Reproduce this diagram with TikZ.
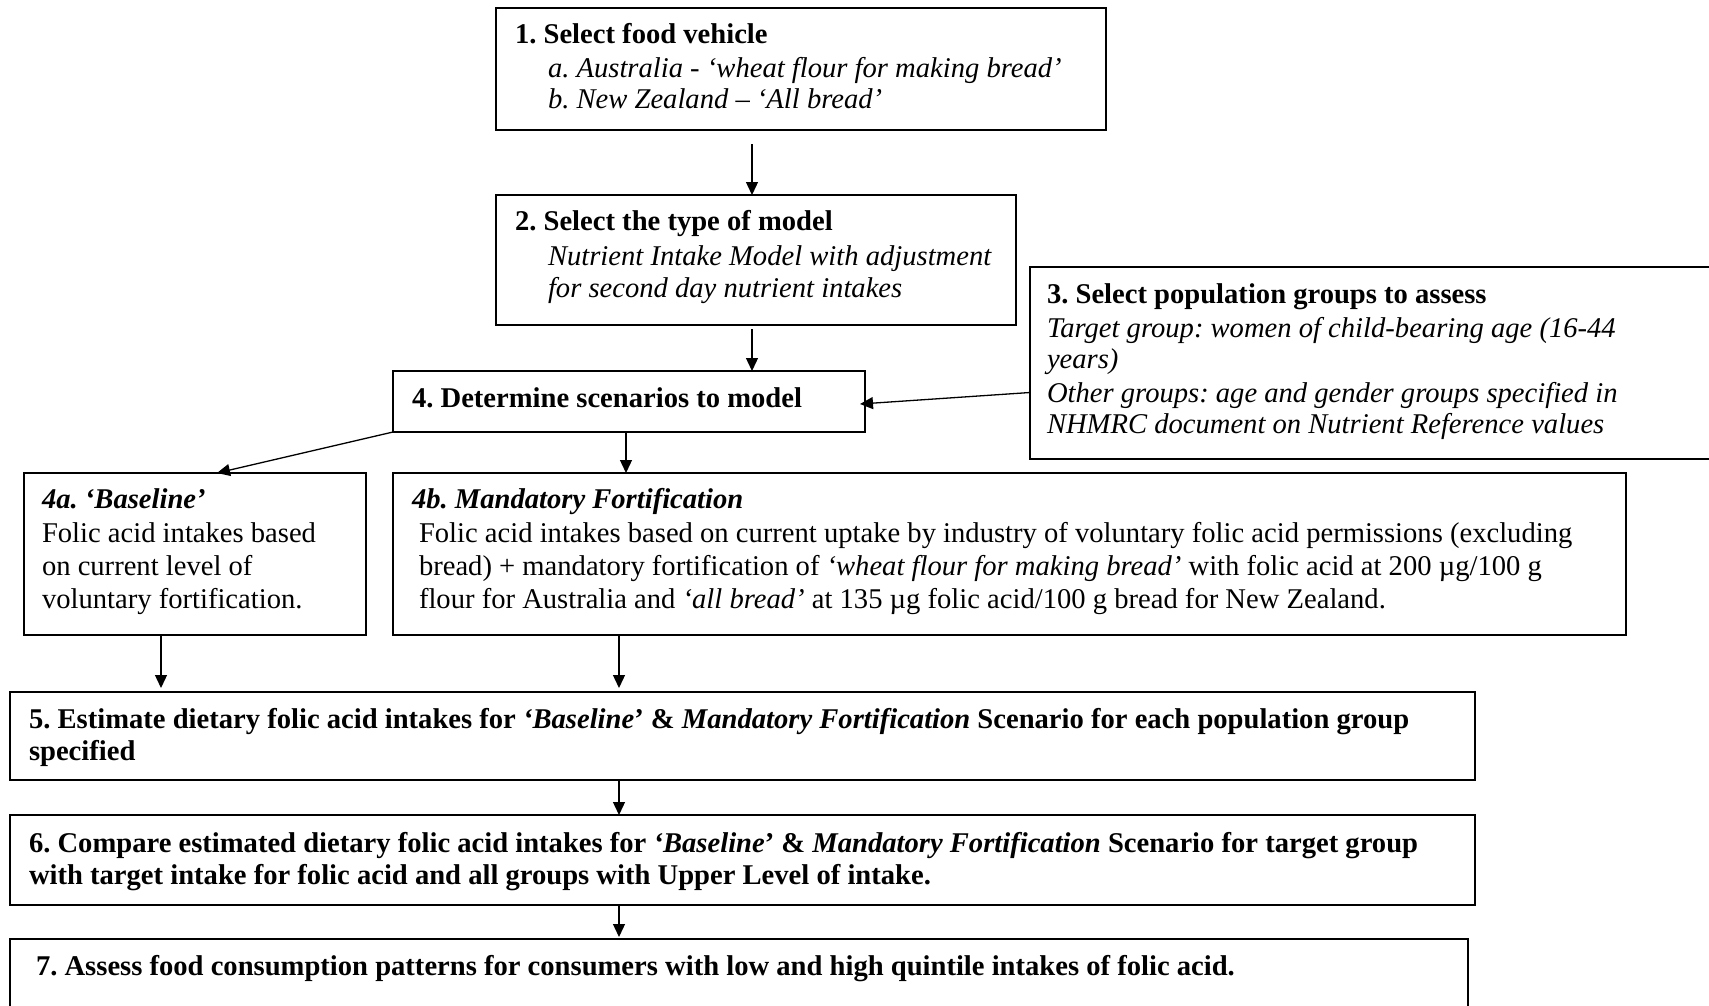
\documentclass[tikz,border=0pt]{standalone}
\usepackage{fontspec}
\setmainfont{Liberation Serif}
\usetikzlibrary{arrows.meta,calc}
\frenchspacing
\begin{document}
\begin{tikzpicture}[x=1pt,y=-1pt,
  box/.style={draw, line width=1.5pt, inner sep=0pt, outer sep=0pt, anchor=north west},
  txt/.style={anchor=base west, inner sep=0pt, outer sep=0pt, font=\fontsize{28.6}{33}\selectfont},
  arr/.style={line width=1.3pt, -{Triangle[length=13pt,width=12pt]}}]
\useasboundingbox (0,0) rectangle (1709,1005);
% boxes
\node[box, minimum width=610pt, minimum height=122pt] (b1) at (496,8) {};
\node[box, minimum width=520pt, minimum height=130pt] (b2) at (496,195) {};
\node[box, minimum width=700pt, minimum height=192pt] (b3) at (1030,267) {};
\node[box, minimum width=472pt, minimum height=61pt] (b4) at (393,371) {};
\node[box, minimum width=342pt, minimum height=162pt] (b4a) at (24,473) {};
\node[box, minimum width=1233pt, minimum height=162pt] (b4b) at (393,473) {};
\node[box, minimum width=1465pt, minimum height=88pt] (b5) at (10,692) {};
\node[box, minimum width=1465pt, minimum height=90pt] (b6) at (10,815) {};
\node[box, minimum width=1458pt, minimum height=90pt] (b7) at (10,939) {};
% texts
\node[txt] (t1a) at (515,43) {\textbf{1. Select food vehicle}};
\node[txt] (t1b) at (548,77) {\textit{a. Australia - ‘wheat flour for making bread’}};
\node[txt] (t1c) at (548,108) {\textit{b. New Zealand – ‘All bread’}};
\node[txt] (t2a) at (515,230) {\textbf{2. Select the type of model}};
\node[txt] (t2b) at (548,265) {\textit{Nutrient Intake Model with adjustment}};
\node[txt] (t2c) at (548,297) {\textit{for second day nutrient intakes}};
\node[txt] (t3a) at (1047,303) {\textbf{3. Select population groups to assess}};
\node[txt] (t3b) at (1047,337) {\textit{Target group: women of child-bearing age (16-44}};
\node[txt] (t3c) at (1047,368) {\textit{years)}};
\node[txt] (t3d) at (1047,402) {\textit{Other groups: age and gender groups specified in}};
\node[txt] (t3e) at (1047,433) {\textit{NHMRC document on Nutrient Reference values}};
\node[txt] (t4) at (412,407) {\textbf{4. Determine scenarios to model}};
\node[txt] (t4aa) at (42,508) {\textbf{\textit{4a. ‘Baseline’}}};
\node[txt] (t4ab) at (42,542) {Folic acid intakes based};
\node[txt] (t4ac) at (42,575) {on current level of};
\node[txt] (t4ad) at (42,608) {voluntary fortification.};
\node[txt] (t4ba) at (412,508) {\textbf{\textit{4b. Mandatory Fortification}}};
\node[txt] (t4bb) at (419,542) {Folic acid intakes based on current uptake by industry of voluntary folic acid permissions (excluding};
\node[txt] (t4bc) at (419,575) {bread) + mandatory fortification of \textit{‘wheat flour for making bread’} with folic acid at 200 µg/100 g};
\node[txt] (t4bd) at (419,608) {flour for Australia and \textit{‘all bread’} at 135 µg folic acid/100 g bread for New Zealand.};
\node[txt] (t5a) at (29,728) {\textbf{5. Estimate dietary folic acid intakes for \textit{‘Baseline}’ \& \textit{Mandatory Fortification} Scenario for each population group}};
\node[txt] (t5b) at (29,760) {\textbf{specified}};
\node[txt] (t6a) at (29,852) {\textbf{6. Compare estimated dietary folic acid intakes for \textit{‘Baseline}’ \& \textit{Mandatory Fortification} Scenario for target group}};
\node[txt] (t6b) at (29,884) {\textbf{with target intake for folic acid and all groups with Upper Level of intake.}};
\node[txt] (t7) at (36,975) {\textbf{7. Assess food consumption patterns for consumers with low and high quintile intakes of folic acid.}};
% connectors
\coordinate (colA) at (752,0);
\coordinate (colB) at (626,0);
\coordinate (colC) at (161,0);
\coordinate (colD) at (619,0);
\draw[arr, shorten <=14pt] (b1.south -| colA) -- (b2.north -| colA);
\draw[arr, shorten <=4pt] (b2.south -| colA) -- (b4.north -| colA);
\draw[arr] ($(b3.west)+(0,29.5)$) -- ($(b4.east)+(-5,2.5)$);
\draw[arr] (b4.south west) -- ($(b4a.north)+(22,0)$);
\draw[arr] (b4.south -| colB) -- (b4b.north -| colB);
\draw[arr, shorten >=4pt] (b4a.south -| colC) -- (b5.north -| colC);
\draw[arr, shorten >=4pt] (b4b.south -| colD) -- (b5.north -| colD);
\draw[arr] (b5.south -| colD) -- (b6.north -| colD);
\draw[arr, shorten >=2pt] (b6.south -| colD) -- (b7.north -| colD);
\end{tikzpicture}
\end{document}
